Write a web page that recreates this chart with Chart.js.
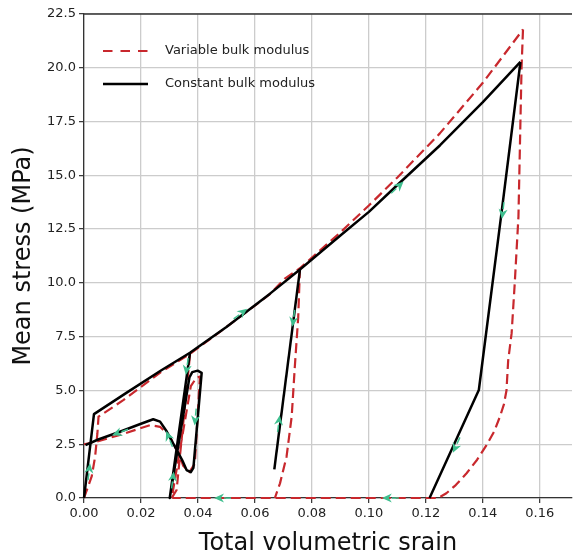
<!DOCTYPE html>
<html><head><meta charset="utf-8">
<script src="https://cdn.jsdelivr.net/npm/chart.js@4.4.0/dist/chart.umd.min.js"></script>
<style>html,body{margin:0;padding:0;background:#fff}canvas{display:block}</style>
</head><body>
<canvas id="c" width="573" height="556"></canvas>
<script>
// ---- tick labels ----
const xTicks = [0, 0.02, 0.04, 0.06, 0.08, 0.10, 0.12, 0.14, 0.16];
const yTicks = [0, 2.5, 5, 7.5, 10, 12.5, 15, 17.5, 20, 22.5];
const legendLabels = ['Variable bulk modulus', 'Constant bulk modulus'];

// ---- Constant bulk modulus (black) ----
const constLoadStrain = [0, 0.0035, 0.015, 0.0273, 0.0372, 0.05, 0.0653, 0.0758, 0.09, 0.10, 0.11, 0.125, 0.14, 0.1532];
const constLoadStress = [0, 3.9, 4.9, 5.95, 6.75, 7.95, 9.5, 10.62, 12.2, 13.3, 14.55, 16.4, 18.4, 20.27];
const constCycle1Strain = [0.0372, 0.0301, 0.0370, 0.0380, 0.0399, 0.0413, 0.0384, 0.0375, 0.0360, 0.0345, 0.0331, 0.029, 0.0267, 0.0243, 0.02, 0.0126, 0.005, 0.0005];
const constCycle1Stress = [6.75, 0.0, 5.6, 5.85, 5.92, 5.82, 1.4, 1.2, 1.3, 1.75, 2.1, 3.1, 3.55, 3.66, 3.45, 3.08, 2.72, 2.46];
const constCycle2Strain = [0.0758, 0.0668];
const constCycle2Stress = [10.62, 1.33];
const constUnloadStrain = [0.1532, 0.1465, 0.1386, 0.1213];
const constUnloadStress = [20.27, 13.2, 5.02, 0];

// ---- Variable bulk modulus (red dashed) ----
const varLoadStrain = [0, 0.0027, 0.0039, 0.0047, 0.0051, 0.0138, 0.027, 0.0372, 0.05, 0.065, 0.0705, 0.0758, 0.09, 0.10, 0.11, 0.1249, 0.14, 0.1541];
const varLoadStress = [0, 1.0, 1.92, 3.0, 3.78, 4.55, 5.85, 6.7, 7.95, 9.45, 10.2, 10.68, 12.35, 13.6, 14.9, 16.95, 19.3, 21.78];
const varCycle1Strain = [0.0372, 0.0325, 0.0308, 0.0375, 0.0395, 0.0407, 0.0389, 0.0370, 0.0348, 0.0337, 0.0325, 0.0302, 0.0267, 0.0232, 0.0126, 0.0044, 0];
const varCycle1Stress = [6.65, 0.37, 0.0, 5.2, 5.6, 5.64, 1.6, 1.2, 1.5, 1.92, 2.23, 2.85, 3.31, 3.39, 2.93, 2.62, 2.5];
const varCycle2Strain = [0.0758, 0.0752, 0.0740, 0.0729, 0.0711, 0.0688, 0.067];
const varCycle2Stress = [10.68, 8.42, 6.1, 3.78, 1.92, 0.68, 0.0];
const varUnloadStrain = [0.1541, 0.1536, 0.1525, 0.1512, 0.1501, 0.1489, 0.1483, 0.1474, 0.146, 0.1440, 0.1413, 0.1380, 0.1343, 0.1305, 0.1272, 0.1243, 0.031];
const varUnloadStress = [21.78, 20.04, 13.07, 9.98, 7.65, 6.4, 5.0, 4.35, 3.78, 3.1, 2.46, 1.78, 1.15, 0.6, 0.22, 0.0, 0];

// ---- direction arrows (position and direction in data units) ----
const arrowX  = [0.0019, 0.0115, 0.0295, 0.0360, 0.0313, 0.0390, 0.0559, 0.1109, 0.0734, 0.0685, 0.1469, 0.1302, 0.1063, 0.0474];
const arrowY  = [1.38, 3.0, 2.9, 5.95, 1.0, 3.6, 8.66, 14.55, 8.19, 3.62, 13.2, 2.31, 0, 0];
const arrowDX = [0.0009, -0.01, -0.003, -0.00105, 0.001, -0.0007, 0.01, 0.01, -0.00097, 0.00097, -0.00096, -0.00345, -1, -1];
const arrowDY = [1, -0.5, 1, -1, 1, -1, 1.0, 1.25, -1, 1, -1, -1, 0, 0];

const zip = (xs, ys) => xs.map((v, i) => ({x: v, y: ys[i]}));
const BLACK = '#000000', RED = '#c8282d', GREEN = '#3fbf8f';
const FONT = "'DejaVu Sans', sans-serif";

function blackSet(xs, ys, label) {
  return {label: label || '', data: zip(xs, ys), showLine: true, borderColor: BLACK, borderWidth: 2.5,
    pointRadius: 0, fill: false, tension: 0, borderJoinStyle: 'round', borderCapStyle: 'butt', clip: false};
}
function redSet(xs, ys, label) {
  return {label: label || '', data: zip(xs, ys), showLine: true, borderColor: RED, borderWidth: 2.2,
    borderDash: [10, 5], pointRadius: 0, fill: false, tension: 0, borderJoinStyle: 'round', clip: false};
}

const datasets = [
  blackSet(constLoadStrain, constLoadStress, legendLabels[1]),
  blackSet(constCycle1Strain, constCycle1Stress),
  blackSet(constCycle2Strain, constCycle2Stress),
  blackSet(constUnloadStrain, constUnloadStress),
  redSet(varLoadStrain, varLoadStress, legendLabels[0]),
  redSet(varCycle1Strain, varCycle1Stress),
  redSet(varCycle2Strain, varCycle2Stress),
  redSet(varUnloadStrain, varUnloadStress),
];

const arrowPlugin = {
  id: 'arrows',
  afterDatasetsDraw(chart) {
    const {ctx, scales: {x, y}} = chart;
    ctx.save();
    ctx.fillStyle = GREEN; ctx.strokeStyle = GREEN; ctx.lineWidth = 1.5;
    for (let i = 0; i < arrowX.length; i++) {
      const px = x.getPixelForValue(arrowX[i]), py = y.getPixelForValue(arrowY[i]);
      let sx = x.getPixelForValue(arrowX[i] + arrowDX[i]) - px;
      let sy = y.getPixelForValue(arrowY[i] + arrowDY[i]) - py;
      const n = Math.hypot(sx, sy); sx /= n; sy /= n;
      const nx = -sy, ny = sx;
      const tipX = px + sx * 5, tipY = py + sy * 5;
      const bx = px - sx * 5, by = py - sy * 5;
      ctx.beginPath(); ctx.moveTo(bx, by); ctx.lineTo(px - sx * 12, py - sy * 12); ctx.stroke();
      ctx.beginPath();
      ctx.moveTo(tipX, tipY);
      ctx.lineTo(bx + nx * 4.5, by + ny * 4.5);
      ctx.lineTo(px - sx * 2, py - sy * 2);
      ctx.lineTo(bx - nx * 4.5, by - ny * 4.5);
      ctx.closePath(); ctx.fill();
    }
    ctx.restore();
  },
  afterDraw(chart) {
    const {ctx, chartArea: a} = chart;
    ctx.save();
    // top spine
    ctx.strokeStyle = '#333'; ctx.lineWidth = 1.3;
    ctx.beginPath(); ctx.moveTo(a.left, a.top); ctx.lineTo(a.right, a.top); ctx.stroke();
    // legend
    ctx.font = '13px ' + FONT; ctx.fillStyle = '#222'; ctx.textBaseline = 'middle';
    const items = [{c: RED, dash: [9.5, 8], w: 2.2, y: 51}, {c: BLACK, dash: [], w: 2.5, y: 84}];
    items.forEach((it, i) => {
      ctx.strokeStyle = it.c; ctx.lineWidth = it.w; ctx.setLineDash(it.dash);
      ctx.beginPath(); ctx.moveTo(a.left + 19, it.y); ctx.lineTo(a.left + 64, it.y); ctx.stroke();
      ctx.setLineDash([]);
      ctx.fillText(legendLabels[i], a.left + 81, it.y);
    });
    ctx.restore();
  }
};

new Chart(document.getElementById('c'), {
  type: 'scatter',
  data: {datasets},
  plugins: [arrowPlugin],
  options: {
    responsive: false, animation: false, devicePixelRatio: 1,
    layout: {padding: {top: 14, right: 1, left: 0, bottom: 0}},
    plugins: {legend: {display: false}, tooltip: {enabled: false}},
    scales: {
      x: {
        type: 'linear', min: 0, max: 0.1713,
        afterBuildTicks: s => { s.ticks = xTicks.map(v => ({value: v})); },
        afterFit: s => { s.height = 58; },
        ticks: {callback: v => v.toFixed(2), font: {size: 13, family: FONT}, color: '#222', padding: 3, maxRotation: 0, autoSkip: false},
        grid: {color: '#cccccc', lineWidth: 1.3, tickLength: 5, tickColor: '#333', tickWidth: 1.2},
        border: {color: '#333', width: 1.3},
        title: {display: true, text: 'Total volumetric srain', font: {size: 24, family: FONT, lineHeight: 1}, color: '#111', padding: {top: 0, bottom: 0}}
      },
      y: {
        type: 'linear', min: 0, max: 22.5,
        afterBuildTicks: s => { s.ticks = yTicks.map(v => ({value: v})); },
        afterFit: s => { s.width = 84; },
        ticks: {callback: v => v.toFixed(1), font: {size: 13, family: FONT}, color: '#222', padding: 3, autoSkip: false},
        grid: {color: '#cccccc', lineWidth: 1.3, tickLength: 5, tickColor: '#333', tickWidth: 1.2},
        border: {color: '#333', width: 1.3},
        title: {display: true, text: 'Mean stress (MPa)', font: {size: 24, family: FONT, lineHeight: 1}, color: '#111', padding: {top: 12, bottom: 0}}
      }
    }
  }
});
</script>
</body></html>
